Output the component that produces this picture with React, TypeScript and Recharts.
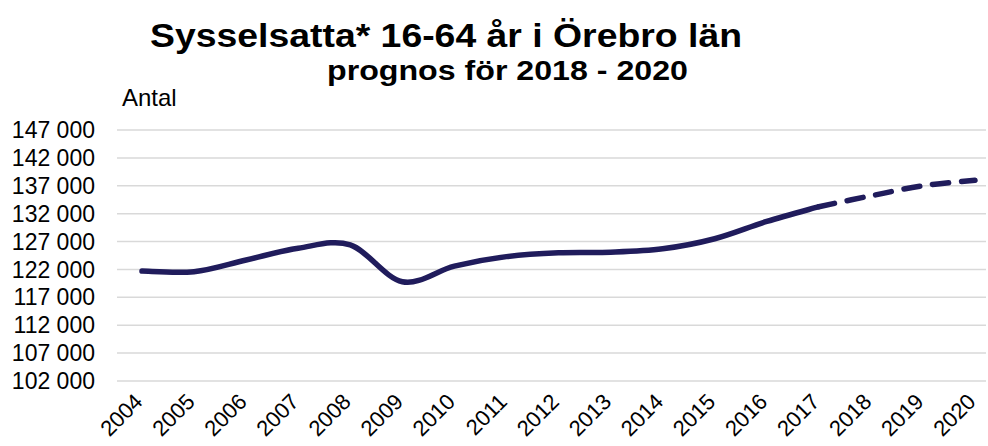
import { LineChart, Line, XAxis, YAxis, CartesianGrid } from 'recharts';

// Years on the category axis
const YEARS = [
  '2004', '2005', '2006', '2007', '2008', '2009', '2010', '2011', '2012',
  '2013', '2014', '2015', '2016', '2017', '2018', '2019', '2020',
];

// Utfall (solid line), 2004-2017
const ACTUAL = [
  121700, 121600, 123700, 125800, 126400, 119800, 122600, 124300, 125000,
  125100, 125700, 127500, 130600, 133250, null, null, null,
];

// Prognos (dashed line), 2017-2020
const FORECAST = [
  null, null, null, null, null, null, null, null, null,
  null, null, null, null, 133250, 135200, 137000, 138000,
];

const Y_TICKS = [102000, 107000, 112000, 117000, 122000, 127000, 132000, 137000, 142000, 147000];

const LINE_COLOR = '#201c5c';
const FONT = 'Arial, "Liberation Sans", sans-serif';

const data = YEARS.map((year, i) => ({
  year,
  actual: ACTUAL[i],
  forecast: FORECAST[i],
}));

const formatThousands = (v: number) => {
  const s = String(Math.round(v));
  return s.replace(/\B(?=(\d{3})+(?!\d))/g, ' ');
};

// Excel-like smoothing (uniform Catmull-Rom through every point)
type Ctx = {
  moveTo: (x: number, y: number) => void;
  lineTo: (x: number, y: number) => void;
  bezierCurveTo: (a: number, b: number, c: number, d: number, e: number, f: number) => void;
};

function excelSmooth(context: Ctx) {
  let pts: [number, number][] = [];
  return {
    areaStart() {},
    areaEnd() {},
    lineStart() {
      pts = [];
    },
    point(x: number, y: number) {
      pts.push([+x, +y]);
    },
    lineEnd() {
      if (!pts.length) return;
      context.moveTo(pts[0][0], pts[0][1]);
      if (pts.length === 2) {
        context.lineTo(pts[1][0], pts[1][1]);
        return;
      }
      for (let i = 0; i < pts.length - 1; i++) {
        const p0 = pts[Math.max(i - 1, 0)];
        const p1 = pts[i];
        const p2 = pts[i + 1];
        const p3 = pts[Math.min(i + 2, pts.length - 1)];
        context.bezierCurveTo(
          p1[0] + (p2[0] - p0[0]) / 6,
          p1[1] + (p2[1] - p0[1]) / 6,
          p2[0] - (p3[0] - p1[0]) / 6,
          p2[1] - (p3[1] - p1[1]) / 6,
          p2[0],
          p2[1],
        );
      }
    },
  };
}

type TickProps = { x?: number; y?: number; payload?: { value: string } };

function YearTick({ x = 0, y = 0, payload }: TickProps) {
  const tx = x + 2;
  const ty = y + 22;
  return (
    <text
      x={tx}
      y={ty}
      transform={`rotate(-45, ${tx}, ${ty})`}
      textAnchor="end"
      fill="#000"
      fontSize={22}
      fontFamily={FONT}
    >
      {payload?.value}
    </text>
  );
}

export default function App() {
  return (
    <div style={{ position: 'absolute', left: 0, top: 0, width: 988, height: 446, background: '#fff' }}>
      <LineChart
        width={988}
        height={446}
        data={data}
        margin={{ top: 130, right: 2, bottom: 0, left: 0 }}
      >
        <CartesianGrid vertical={false} stroke="#d9d9d9" strokeWidth={1.5} />
        <XAxis
          dataKey="year"
          height={65}
          axisLine={false}
          tickLine={false}
          tickSize={0}
          tickMargin={0}
          interval={0}
          padding={{ left: 25, right: 11 }}
          tick={<YearTick />}
        />
        <YAxis
          width={117}
          domain={[102000, 147000]}
          ticks={Y_TICKS}
          interval={0}
          axisLine={false}
          tickLine={false}
          tickSize={0}
          tickMargin={22}
          tickFormatter={formatThousands}
          tick={{ fill: '#000', fontSize: 23, fontFamily: FONT }}
        />
        <Line
          type={excelSmooth as any}
          dataKey="actual"
          stroke={LINE_COLOR}
          strokeWidth={5.5}
          strokeLinecap="round"
          dot={false}
          activeDot={false}
          connectNulls={false}
          isAnimationActive={false}
        />
        <Line
          type={excelSmooth as any}
          dataKey="forecast"
          stroke={LINE_COLOR}
          strokeWidth={5.5}
          strokeLinecap="round"
          strokeDasharray="16 13"
          dot={false}
          activeDot={false}
          connectNulls={false}
          isAnimationActive={false}
        />
      </LineChart>
      <svg
        width={988}
        height={120}
        style={{ position: 'absolute', left: 0, top: 0, pointerEvents: 'none' }}
      >
        <text
          x={150}
          y={47}
          fontSize={34}
          fontWeight="bold"
          fontFamily={FONT}
          fill="#000"
          textLength={592}
          lengthAdjust="spacingAndGlyphs"
        >
          Sysselsatta* 16-64 år i Örebro län
        </text>
        <text
          x={327}
          y={80}
          fontSize={28}
          fontWeight="bold"
          fontFamily={FONT}
          fill="#000"
          textLength={361}
          lengthAdjust="spacingAndGlyphs"
        >
          prognos för 2018 - 2020
        </text>
        <text x={122} y={106} fontSize={24} fontFamily={FONT} fill="#000">
          Antal
        </text>
      </svg>
    </div>
  );
}
